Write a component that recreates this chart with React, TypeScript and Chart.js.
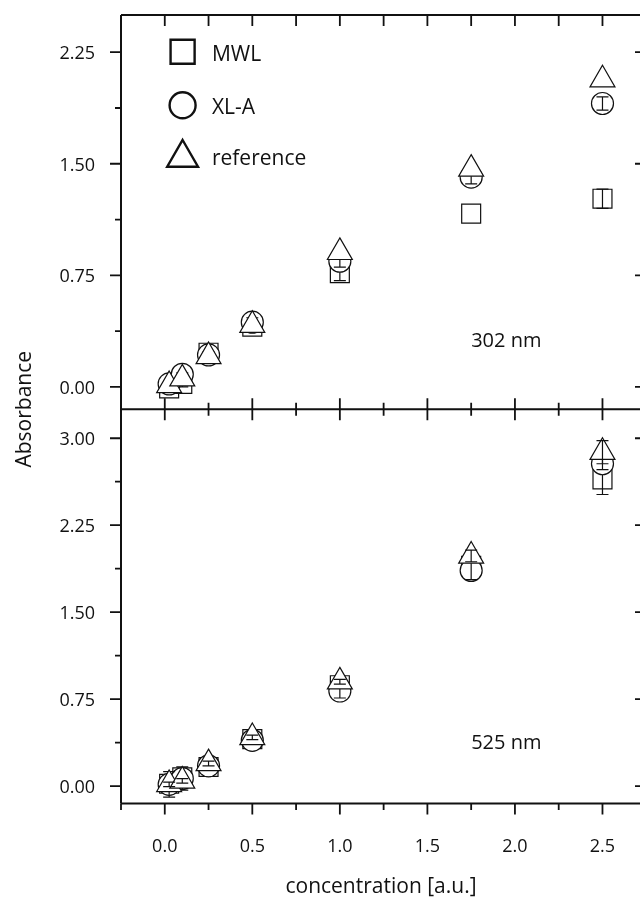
import React, { useEffect, useRef } from 'react';
import { Chart, registerables } from 'chart.js';

Chart.register(...registerables);

// ---- data ----
const concentrations = [0.025, 0.1, 0.25, 0.5, 1.0, 1.75, 2.5];

const mwl302 = [-0.01, 0.02, 0.23, 0.405, 0.765, 1.165, 1.265];
const mwl302Err = [0.02, 0.02, 0.02, 0.03, 0.05, 0, 0.065];
const xla302 = [0.02, 0.085, 0.215, 0.435, 0.845, 1.41, 1.905];
const xla302Err = [0.01, 0.01, 0.02, 0.03, 0.04, 0.045, 0.045];
const ref302 = [0.01, 0.055, 0.205, 0.415, 0.905, 1.465, 2.065];
const ref302Err = [0, 0, 0, 0, 0, 0, 0];

const mwl525 = [0.02, 0.075, 0.165, 0.405, 0.87, 1.9, 2.645];
const mwl525Err = [0.03, 0.03, 0.03, 0.03, 0.05, 0.06, 0.13];
const xla525 = [0.015, 0.065, 0.175, 0.395, 0.82, 1.86, 2.78];
const xla525Err = [0.11, 0.1, 0.03, 0.03, 0.06, 0.08, 0.05];
const ref525 = [0.015, 0.045, 0.195, 0.42, 0.9, 1.985, 2.88];
const ref525Err = [0.02, 0.02, 0.02, 0.02, 0.02, 0.05, 0.1];

const seriesNames = ['MWL', 'XL-A', 'reference'];
const panelLabels = ['302 nm', '525 nm'];
const xTicks = [0, 0.5, 1, 1.5, 2, 2.5];
const xMinorTicks = [-0.25, 0.25, 0.75, 1.25, 1.75, 2.25];
const yTicksTop = [0, 0.75, 1.5, 2.25];
const yMinorTop = [0.375, 1.125, 1.875];
const yTicksBottom = [0, 0.75, 1.5, 2.25, 3];
const yMinorBottom = [0.375, 1.125, 1.875, 2.625];
const xTitle = 'concentration [a.u.]';
const yTitle = 'Absorbance';

const FONT = '"Open Sans", "DejaVu Sans", sans-serif';
const INK = '#111';

function pts(ys: number[]) {
  return concentrations.map((x, i) => ({ x, y: ys[i] }));
}

function drawShape(ctx: CanvasRenderingContext2D, style: string, x: number, y: number, r: number) {
  ctx.beginPath();
  if (style === 'rect') {
    const s = Math.SQRT1_2 * r;
    ctx.rect(x - s, y - s, 2 * s, 2 * s);
  } else if (style === 'circle') {
    ctx.arc(x, y, r, 0, Math.PI * 2);
  } else {
    ctx.moveTo(x, y - r);
    ctx.lineTo(x + Math.sin((2 * Math.PI) / 3) * r, y + 0.5 * r);
    ctx.lineTo(x - Math.sin((2 * Math.PI) / 3) * r, y + 0.5 * r);
    ctx.closePath();
  }
  ctx.fillStyle = '#fff';
  ctx.fill();
  ctx.stroke();
}

const errorBarPlugin = {
  id: 'errorBars',
  afterDatasetDraw(chart: any, args: any) {
    const ds = chart.data.datasets[args.index];
    const errs: number[] | undefined = ds.errors;
    if (!errs) return;
    const ys = chart.scales[ds.yAxisID];
    const ctx: CanvasRenderingContext2D = chart.ctx;
    ctx.save();
    ctx.strokeStyle = INK;
    ctx.lineWidth = 1.2;
    args.meta.data.forEach((pt: any, i: number) => {
      const e = errs[i];
      if (!e) return;
      const v = ds.data[i].y;
      const x = pt.x;
      const y1 = ys.getPixelForValue(v + e);
      const y2 = ys.getPixelForValue(v - e);
      ctx.beginPath();
      ctx.moveTo(x, y1);
      ctx.lineTo(x, y2);
      ctx.moveTo(x - 6, y1);
      ctx.lineTo(x + 6, y1);
      ctx.moveTo(x - 6, y2);
      ctx.lineTo(x + 6, y2);
      ctx.stroke();
    });
    ctx.restore();
  },
};

const framePlugin = {
  id: 'frame',
  beforeDatasetsDraw(chart: any) {
    const ctx: CanvasRenderingContext2D = chart.ctx;
    const { left, right, top, bottom } = chart.chartArea;
    const xs = chart.scales.x;
    const yt = chart.scales.yTop;
    const yb = chart.scales.yBot;
    const mid = yt.top < yb.top ? yt.bottom : yt.top;
    ctx.save();
    ctx.strokeStyle = INK;
    ctx.fillStyle = INK;
    // frame lines
    ctx.lineWidth = 2;
    ctx.beginPath();
    ctx.moveTo(left, top);
    ctx.lineTo(left, bottom);
    ctx.moveTo(left, top);
    ctx.lineTo(right, top);
    ctx.moveTo(right, top);
    ctx.lineTo(right, bottom);
    ctx.moveTo(left, mid);
    ctx.lineTo(right, mid);
    ctx.moveTo(left, bottom);
    ctx.lineTo(right, bottom);
    ctx.stroke();

    ctx.lineWidth = 1.8;
    ctx.beginPath();
    // x ticks
    xTicks.forEach((v) => {
      const px = xs.getPixelForValue(v);
      ctx.moveTo(px, top);
      ctx.lineTo(px, top + 11);
      ctx.moveTo(px, mid - 11);
      ctx.lineTo(px, mid + 11);
      ctx.moveTo(px, bottom);
      ctx.lineTo(px, bottom + 11);
    });
    xMinorTicks.forEach((v) => {
      const px = xs.getPixelForValue(v);
      if (v > -0.2) {
        ctx.moveTo(px, top);
        ctx.lineTo(px, top + 11);
        ctx.moveTo(px, mid - 6.5);
        ctx.lineTo(px, mid + 6.5);
      }
      ctx.moveTo(px, bottom);
      ctx.lineTo(px, bottom + 6.5);
    });
    // y ticks
    const yMajor = (scale: any, vals: number[]) =>
      vals.forEach((v) => {
        const py = scale.getPixelForValue(v);
        ctx.moveTo(left - 11, py);
        ctx.lineTo(left, py);
        ctx.moveTo(right - 6, py);
        ctx.lineTo(right, py);
      });
    const yMinor = (scale: any, vals: number[]) =>
      vals.forEach((v) => {
        const py = scale.getPixelForValue(v);
        ctx.moveTo(left - 6, py);
        ctx.lineTo(left, py);
      });
    yMajor(yt, yTicksTop);
    yMajor(yb, yTicksBottom);
    yMinor(yt, yMinorTop);
    yMinor(yb, yMinorBottom);
    ctx.stroke();

    // tick labels
    ctx.font = `18px ${FONT}`;
    ctx.textBaseline = 'alphabetic';
    ctx.textAlign = 'right';
    yTicksTop.forEach((v) => ctx.fillText(v.toFixed(2), left - 26, yt.getPixelForValue(v) + 7));
    yTicksBottom.forEach((v) => ctx.fillText(v.toFixed(2), left - 26, yb.getPixelForValue(v) + 7));
    ctx.textAlign = 'center';
    xTicks.forEach((v) => ctx.fillText(v.toFixed(1), xs.getPixelForValue(v), bottom + 48.5));

    // axis titles
    ctx.font = `21px ${FONT}`;
    ctx.textAlign = 'center';
    ctx.fillText(xTitle, (left + right) / 2, bottom + 89.5);
    ctx.save();
    ctx.translate(25, mid);
    ctx.rotate(-Math.PI / 2);
    ctx.textBaseline = 'middle';
    ctx.fillText(yTitle, 0, 0);
    ctx.restore();

    // panel labels
    ctx.font = `20px ${FONT}`;
    ctx.textAlign = 'left';
    ctx.textBaseline = 'alphabetic';
    const lx = xs.getPixelForValue(1.75);
    ctx.fillText(panelLabels[0], lx, mid - 62.5);
    ctx.fillText(panelLabels[1], lx, bottom - 54.5);
    ctx.restore();
  },
  afterDraw(chart: any) {
    const ctx: CanvasRenderingContext2D = chart.ctx;
    const { left, top } = chart.chartArea;
    ctx.save();
    ctx.strokeStyle = INK;
    ctx.lineWidth = 2.4;
    const mx = left + 61.6;
    const styles = ['rect', 'circle', 'triangle'];
    const radii = [17, 13, 17.8];
    const cy = [top + 36.7, top + 90.3, top + 142.8];
    const by = [top + 45.5, top + 99, top + 149.5];
    ctx.font = `21px ${FONT}`;
    ctx.fillStyle = INK;
    ctx.textAlign = 'left';
    ctx.textBaseline = 'alphabetic';
    styles.forEach((s, i) => {
      drawShape(ctx, s, mx, cy[i], radii[i]);
      ctx.fillStyle = INK;
      ctx.fillText(seriesNames[i], left + 90.9, by[i]);
    });
    ctx.restore();
  },
};

function makeDataset(label: string, ys: number[], errs: number[], axis: string, style: string, radius: number, order: number) {
  return {
    label,
    data: pts(ys),
    errors: errs,
    yAxisID: axis,
    xAxisID: 'x',
    pointStyle: style,
    pointRadius: radius,
    pointHoverRadius: radius,
    pointBorderWidth: 1.2,
    pointBorderColor: INK,
    pointBackgroundColor: '#fff',
    borderColor: INK,
    backgroundColor: '#fff',
    showLine: false,
    clip: false,
    order,
  };
}

export default function App() {
  const ref = useRef<HTMLCanvasElement | null>(null);
  useEffect(() => {
    if (!ref.current) return;
    const chart = new Chart(ref.current, {
      type: 'scatter',
      data: {
        datasets: [
          makeDataset(seriesNames[0], mwl302, mwl302Err, 'yTop', 'rect', 13.4, 2),
          makeDataset(seriesNames[1], xla302, xla302Err, 'yTop', 'circle', 11, 1),
          makeDataset(seriesNames[2], ref302, ref302Err, 'yTop', 'triangle', 14.4, 0),
          makeDataset(seriesNames[0], mwl525, mwl525Err, 'yBot', 'rect', 13.4, 2),
          makeDataset(seriesNames[1], xla525, xla525Err, 'yBot', 'circle', 11, 1),
          makeDataset(seriesNames[2], ref525, ref525Err, 'yBot', 'triangle', 14.4, 0),
        ] as any,
      },
      options: {
        animation: false,
        responsive: false,
        events: [],
        layout: { autoPadding: false, padding: { left: 121, right: 4, top: 15, bottom: 94.5 } },
        plugins: { legend: { display: false }, tooltip: { enabled: false } },
        scales: {
          x: { type: 'linear', min: -0.25, max: 2.72, display: false },
          yBot: { type: 'linear', position: 'left', stack: 'panels', stackWeight: 1, min: -0.15, max: 3.25, display: false },
          yTop: { type: 'linear', position: 'left', stack: 'panels', stackWeight: 1, min: -0.15, max: 2.5, display: false },
        },
      } as any,
      plugins: [framePlugin, errorBarPlugin],
    });
    return () => chart.destroy();
  }, []);
  return (
    <div style={{ position: 'fixed', left: 0, top: 0, width: 640, height: 898, overflow: 'hidden', background: '#fff' }}>
      <canvas ref={ref} width={645} height={898} style={{ display: 'block', width: 645, height: 898 }} />
    </div>
  );
}
